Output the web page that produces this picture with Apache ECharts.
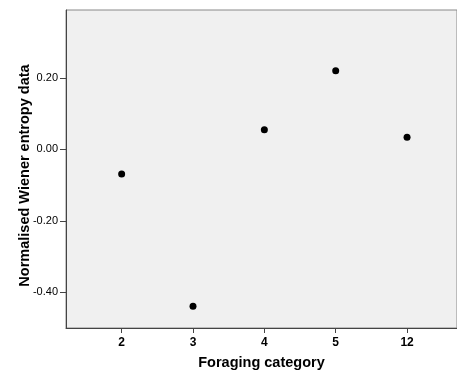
<!DOCTYPE html>
<html><head><meta charset="utf-8">
<script src="https://cdn.jsdelivr.net/npm/echarts@6/dist/echarts.min.js"></script>
<style>html,body{margin:0;padding:0;background:#fff}#c{width:457px;height:373px}</style>
</head><body><div id="c"></div>
<script>
const categories = ['2', '3', '4', '5', '12'];
const values = [-0.069, -0.439, 0.055, 0.220, 0.034];
const yTicks = [-0.4, -0.2, 0, 0.2];

const chart = echarts.init(document.getElementById('c'), null, {renderer: 'canvas'});
const font = 'Liberation Sans, Arial, sans-serif';
chart.setOption({
  animation: false,
  grid: {left: 66, top: 10, right: 0, bottom: 45, containLabel: false, outerBoundsMode: 'none', show: true, backgroundColor: '#f0f0f0', borderColor: '#888', borderWidth: 1},
  xAxis: {
    type: 'value', min: -0.78, max: 4.7,
    splitLine: {show: false},
    axisLine: {show: true, onZero: false, lineStyle: {color: '#444', width: 1}},
    axisTick: {show: true, length: 5, lineStyle: {color: '#444'}, customValues: categories.map((c, i) => i)},
    axisLabel: {customValues: categories.map((c, i) => i), formatter: v => categories[Math.round(v)], color: '#000', fontFamily: font, fontSize: 12, fontWeight: 'bold', margin: 9},
    name: 'Foraging category', nameLocation: 'middle', nameGap: 27, nameMoveOverlap: false,
    nameTextStyle: {color: '#000', fontFamily: font, fontSize: 14.5, fontWeight: 'bold'}
  },
  yAxis: {
    type: 'value', min: -0.5, max: 0.39,
    splitLine: {show: false},
    axisLine: {show: true, onZero: false, lineStyle: {color: '#444', width: 1}},
    axisTick: {show: true, length: 6, lineStyle: {color: '#444'}, customValues: yTicks},
    axisLabel: {customValues: yTicks, formatter: v => v.toFixed(2), color: '#000', fontFamily: font, fontSize: 11, margin: 8},
    name: 'Normalised Wiener entropy data', nameLocation: 'middle', nameGap: 34, nameMoveOverlap: false,
    nameTextStyle: {color: '#000', fontFamily: font, fontSize: 14.5, fontWeight: 'bold', padding: [0, 13, 0, 0]}
  },
  series: [{
    type: 'scatter', symbolSize: 7,
    itemStyle: {color: '#000', opacity: 1},
    data: values.map((v, i) => [i, v])
  }]
});
</script></body></html>
